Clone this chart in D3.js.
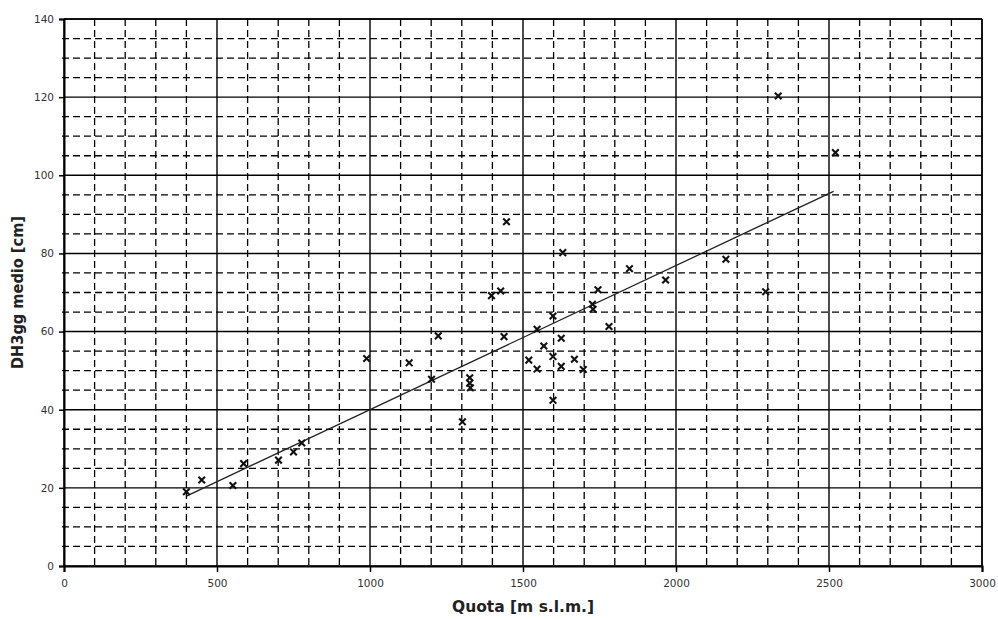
<!DOCTYPE html>
<html>
<head>
<meta charset="utf-8">
<script src="https://cdn.jsdelivr.net/npm/d3@7"></script>
<style>
    body { margin: 0; background: #fff; }
    svg { display: block; font-family: "DejaVu Sans", sans-serif; }
</style>
</head>
<body>
<svg id="chart"></svg>
<script>
let width = 998,
    height = 619;

let margin = {top: 19, right: 16, bottom: 53, left: 64};

// quota (m s.l.m.) and DH3gg medio (cm)
let quota = [400, 450, 552, 587, 701, 750, 777, 989, 1128, 1223, 1201, 1302, 1326, 1326, 1328,
    1397, 1427, 1438, 1446, 1519, 1546, 1546, 1568, 1598, 1598, 1598, 1625, 1625, 1630, 1668,
    1697, 1727, 1729, 1745, 1781, 1848, 1966, 2163, 2293, 2334, 2521];
let dh3gg = [19, 22, 20.6, 26.2, 27.1, 29.2, 31.5, 53.1, 52.0, 58.9, 47.8, 36.9, 48.2, 46.8, 45.6,
    69.2, 70.4, 58.7, 88.1, 52.7, 60.6, 50.4, 56.3, 64.0, 53.6, 42.4, 58.3, 51.1, 80.2, 52.9,
    50.3, 67.0, 65.7, 70.7, 61.3, 76.1, 73.2, 78.5, 70.2, 120.3, 105.8];

// trend line end points
let trendX = [400, 2515],
    trendY = [17.9, 95.9];

let xTicks = [0, 500, 1000, 1500, 2000, 2500, 3000];
let yTicks = [0, 20, 40, 60, 80, 100, 120, 140];

let svg = d3.select("svg#chart")
    .attr("width", width)
    .attr("height", height);

let x = d3.scaleLinear().domain([0, 3000]).range([margin.left, width - margin.right]);
let y = d3.scaleLinear().domain([0, 140]).range([height - margin.bottom, margin.top]);

let x0 = x.range()[0], x1 = x.range()[1];
let y0 = y.range()[0], y1 = y.range()[1];

// minor dashed grid
let xMinor = d3.range(100, 3000, 100).filter(v => v % 500 !== 0);
let yMinor = d3.range(5, 140, 5).filter(v => v % 20 !== 0);

svg.append("g").selectAll("line")
    .data(xMinor)
    .join("line")
    .attr("x1", d => x(d)).attr("x2", d => x(d))
    .attr("y1", y1).attr("y2", y0 + 2)
    .attr("stroke", "#000")
    .attr("stroke-width", 1.3)
    .attr("stroke-dasharray", "7,4");

svg.append("g").selectAll("line")
    .data(yMinor)
    .join("line")
    .attr("x1", x0 - 2).attr("x2", x1)
    .attr("y1", d => y(d)).attr("y2", d => y(d))
    .attr("stroke", "#000")
    .attr("stroke-width", 1.3)
    .attr("stroke-dasharray", "7,4");

// major solid grid
svg.append("g").selectAll("line")
    .data(xTicks)
    .join("line")
    .attr("x1", d => x(d)).attr("x2", d => x(d))
    .attr("y1", y1).attr("y2", y0)
    .attr("stroke", "#000")
    .attr("stroke-width", 1.4);

svg.append("g").selectAll("line")
    .data(yTicks)
    .join("line")
    .attr("x1", x0).attr("x2", x1)
    .attr("y1", d => y(d)).attr("y2", d => y(d))
    .attr("stroke", "#000")
    .attr("stroke-width", 1.4);

// axes
let xAxis = svg.append("g")
    .attr("transform", `translate(0,${y0})`)
    .call(d3.axisBottom(x).tickValues(xTicks).tickSize(6).tickPadding(8).tickFormat(d3.format("d")));
let yAxis = svg.append("g")
    .attr("transform", `translate(${x0},0)`)
    .call(d3.axisLeft(y).tickValues(yTicks).tickSize(5).tickPadding(5));

for (let ax of [xAxis, yAxis]) {
    ax.select(".domain").attr("stroke", "#000").attr("stroke-width", 2);
    ax.selectAll(".tick line").attr("stroke", "#000").attr("stroke-width", 1.5);
    ax.selectAll(".tick text")
        .attr("fill", "#333")
        .style("font-size", "10.5px")
        .style("font-family", "'DejaVu Sans', sans-serif");
}

// frame top / right
svg.append("line")
    .attr("x1", x0).attr("x2", x1).attr("y1", y1).attr("y2", y1)
    .attr("stroke", "#000").attr("stroke-width", 1.5);
svg.append("line")
    .attr("x1", x1).attr("x2", x1).attr("y1", y1).attr("y2", y0)
    .attr("stroke", "#000").attr("stroke-width", 1.5);

// trend line
svg.append("path")
    .datum(d3.zip(trendX, trendY))
    .attr("d", d3.line().x(d => x(d[0])).y(d => y(d[1])))
    .attr("fill", "none")
    .attr("stroke", "#222")
    .attr("stroke-width", 1.3);

// points
svg.append("g").selectAll("path")
    .data(d3.zip(quota, dh3gg))
    .join("path")
    .attr("transform", d => `translate(${x(d[0])},${y(d[1])})`)
    .attr("d", d3.symbol().type(d3.symbolTimes).size(30))
    .attr("fill", "none")
    .attr("stroke", "#111")
    .attr("stroke-width", 2.1);

// titles
svg.append("text")
    .attr("x", (x0 + x1) / 2)
    .attr("y", 612)
    .attr("text-anchor", "middle")
    .attr("textLength", 142)
    .attr("lengthAdjust", "spacingAndGlyphs")
    .style("font-size", "15.5px")
    .style("font-weight", "bold")
    .attr("fill", "#222")
    .text("Quota [m s.l.m.]");

svg.append("text")
    .attr("transform", `translate(23,${(y0 + y1) / 2}) rotate(-90)`)
    .attr("text-anchor", "middle")
    .attr("textLength", 153)
    .attr("lengthAdjust", "spacingAndGlyphs")
    .style("font-size", "15.5px")
    .style("font-weight", "bold")
    .attr("fill", "#222")
    .text("DH3gg medio [cm]");
</script>
</body>
</html>
